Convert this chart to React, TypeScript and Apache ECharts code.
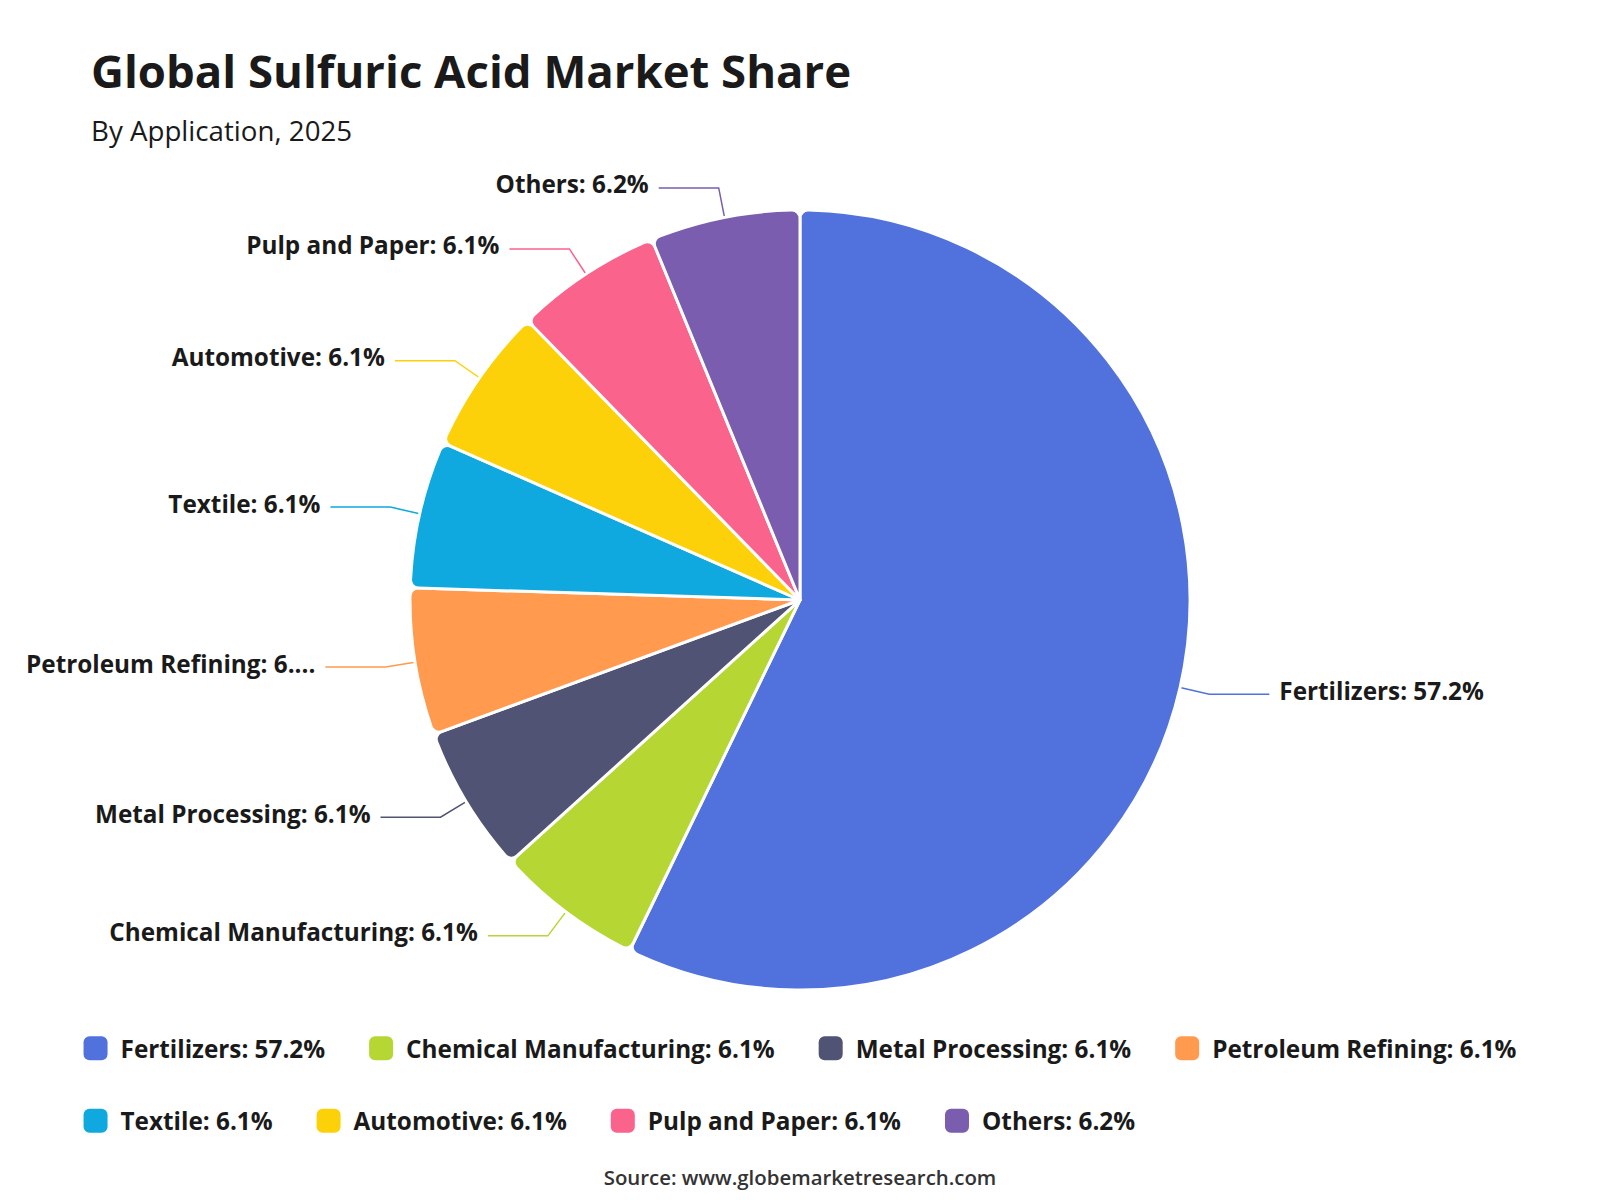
import React, { useEffect, useRef } from 'react';
import * as echarts from 'echarts';

const categories = ['Fertilizers', 'Chemical Manufacturing', 'Metal Processing', 'Petroleum Refining', 'Textile', 'Automotive', 'Pulp and Paper', 'Others'];
const shares = [57.2, 6.1, 6.1, 6.1, 6.1, 6.1, 6.1, 6.2];
const colors = ['#5171DD', '#B5D633', '#505373', '#FF9A4E', '#0FA8DF', '#FDD10A', '#F9638C', '#7A5DAE'];
const titleText = 'Global Sulfuric Acid Market Share';
const subtitleText = 'By Application, 2025';
const sourceText = 'Source: www.globemarketresearch.com';

export default function App() {
  const ref = useRef<HTMLDivElement>(null);
  useEffect(() => {
    const chart = echarts.init(ref.current!, null, { renderer: 'svg' });
    const font = "'Open Sans', sans-serif";
    chart.setOption({
      animation: false,
      color: colors,
      textStyle: { fontFamily: font },
      title: [
        { text: titleText, left: 83, top: 39, padding: 0, textStyle: { fontSize: 45.5, fontWeight: 'bold', color: '#1a1a1a', fontFamily: font } },
        { text: subtitleText, left: 83, top: 108, padding: 0, textStyle: { fontSize: 27.7, fontWeight: 'normal', color: '#1a1a1a', fontFamily: font } },
        { text: sourceText, left: 'center', top: 1159, padding: 0, textStyle: { fontSize: 20.4, fontWeight: 600, color: '#333', fontFamily: font } },
      ],
      legend: {
        left: 'center', top: 1026, padding: 0, itemGap: 44, itemWidth: 24, itemHeight: 24, icon: 'roundRect',
        itemStyle: { borderWidth: 0 },
        textStyle: { fontSize: 24.3, lineHeight: 28.5, fontWeight: 'bold', color: '#1a1a1a', fontFamily: font, padding: [0, 0, 0, 8] },
        formatter: (name: string) => `${name}: ${shares[categories.indexOf(name)]}%`,
      },
      series: [{
        type: 'pie', radius: 390, center: ['50%', 592], startAngle: 90, clockwise: true,
        itemStyle: { borderColor: '#fff', borderWidth: 3, borderRadius: 8 },
        label: {
          show: true,
          formatter: (p: any) => `{t|${p.name}: ${p.value}%}`,
          fontSize: 24.3, fontWeight: 'bold', color: '#1a1a1a', fontFamily: font, distanceToLabelLine: 10, bleedMargin: 10,
          rich: { t: { fontSize: 24.3, fontWeight: 'bold', color: '#1a1a1a', fontFamily: font, padding: [0, 0, 8, 0] } },
        },
        labelLine: { show: true, length: 30, length2: 60, lineStyle: { width: 1.5 } },
        data: categories.map((c, i) => ({ name: c, value: shares[i] })),
      }],
    });
    return () => chart.dispose();
  }, []);
  return <div ref={ref} style={{ width: 1584, height: 1184 }} />;
}
